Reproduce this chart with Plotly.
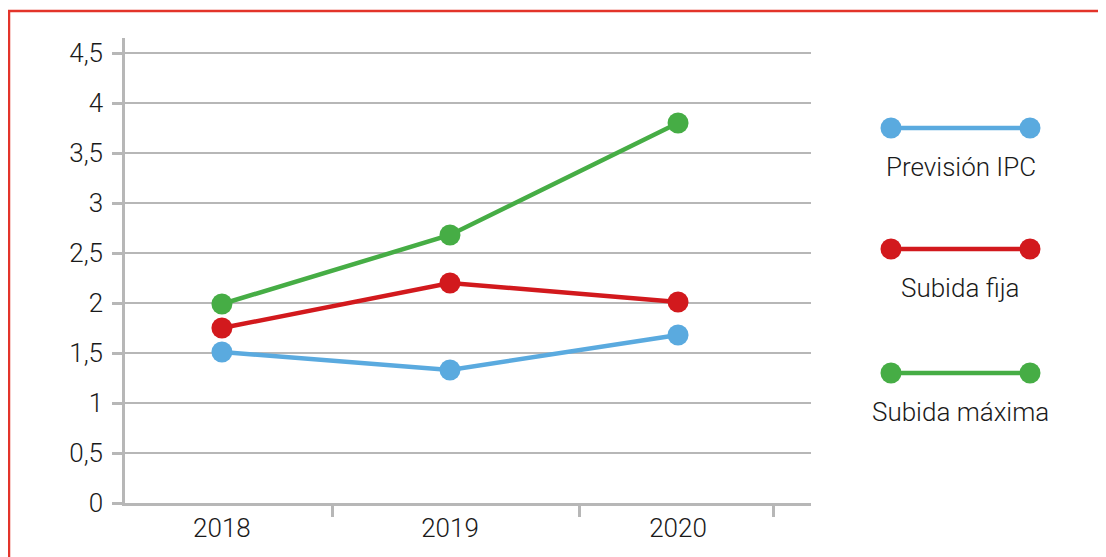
import plotly.graph_objects as go

years = ["2018", "2019", "2020"]
series_names = ["Previsión IPC", "Subida fija", "Subida máxima"]
ipc = [1.51, 1.33, 1.68]
fija = [1.75, 2.2, 2.01]
maxima = [1.99, 2.68, 3.8]
colors = ["#5aaadf", "#d2191d", "#46ad45"]
y_ticks = [0, 0.5, 1, 1.5, 2, 2.5, 3, 3.5, 4, 4.5]

OFF = 8  # page body margin offset
W, H = 1106, 557
L, R = 125 - OFF, 10
T, B = 38 - OFF, H - (503 - OFF)
pw = W - L - R
ph = H - T - B
plot_right = 811 - OFF
main_dom = (plot_right - L) / pw

grid = "#b7b7b7"
font = dict(family="Roboto, Liberation Sans, Arial, sans-serif", size=26,
            color="#1a1a1a", weight=300)

fig = go.Figure()
for name, vals, c in zip(series_names, [ipc, fija, maxima], colors):
    fig.add_trace(go.Scatter(
        x=years, y=vals, mode="lines+markers", name=name,
        line=dict(color=c, width=4.5), marker=dict(color=c, size=21),
        cliponaxis=False, showlegend=False, xaxis="x", yaxis="y"))

# custom legend (line with a dot at each end, label below)
leg_rows = [128, 249, 373]
for name, c, yr in zip(series_names, colors, leg_rows):
    fig.add_trace(go.Scatter(
        x=[0, 1], y=[yr, yr], mode="lines+markers",
        line=dict(color=c, width=4.5), marker=dict(color=c, size=21),
        cliponaxis=False, showlegend=False, xaxis="x3", yaxis="y3",
        hoverinfo="skip"))
    fig.add_annotation(x=0.5, y=yr + 39, xref="x3", yref="y3", text=name,
                       showarrow=False, font=font, xanchor="center", yanchor="middle")

x_lo, x_hi = -0.425, 2.583
fig.update_layout(
    width=W, height=H,
    margin=dict(l=L, r=R, t=T, b=B),
    paper_bgcolor="white", plot_bgcolor="white",
    separators=",.",
    font=font,
    xaxis=dict(domain=[0, main_dom], type="category", range=[x_lo, x_hi],
               showgrid=False, showline=True, linecolor=grid, linewidth=2.5,
               ticks="", ticklabelstandoff=0, tickfont=font, zeroline=False),
    xaxis2=dict(domain=[0, main_dom], overlaying="x", anchor="y", range=[x_lo, x_hi],
                tickvals=[0.487, 1.57, 2.42], ticktext=["", "", ""],
                ticks="outside", ticklen=13, tickwidth=2.5, tickcolor=grid,
                showgrid=False, showline=False, zeroline=False, side="bottom"),
    yaxis=dict(range=[0, 4.65], tickvals=y_ticks, showgrid=True, gridcolor=grid,
               gridwidth=2, showline=True, linecolor=grid, linewidth=2.5,
               ticks="outside", ticklen=10, tickwidth=2.5, tickcolor=grid,
               ticklabelstandoff=4, tickfont=font, zeroline=False),
    xaxis3=dict(domain=[(891 - OFF - L) / pw, (1030 - OFF - L) / pw], range=[0, 1],
                anchor="y3", visible=False),
    yaxis3=dict(domain=[0, 1], range=[503, 38], anchor="x3", visible=False),
    shapes=[dict(type="rect", xref="paper", yref="paper",
                 x0=(9 - OFF - L) / pw, x1=(1115 - OFF - L) / pw,
                 y0=(H - B - 575) / ph, y1=(H - B - (11 - OFF)) / ph,
                 line=dict(color="#e3342a", width=2.5), fillcolor="rgba(0,0,0,0)",
                 layer="below")],
)
fig.add_trace(go.Scatter(x=[None], y=[None], xaxis="x2", yaxis="y", showlegend=False))

fig.write_html("out.html")
